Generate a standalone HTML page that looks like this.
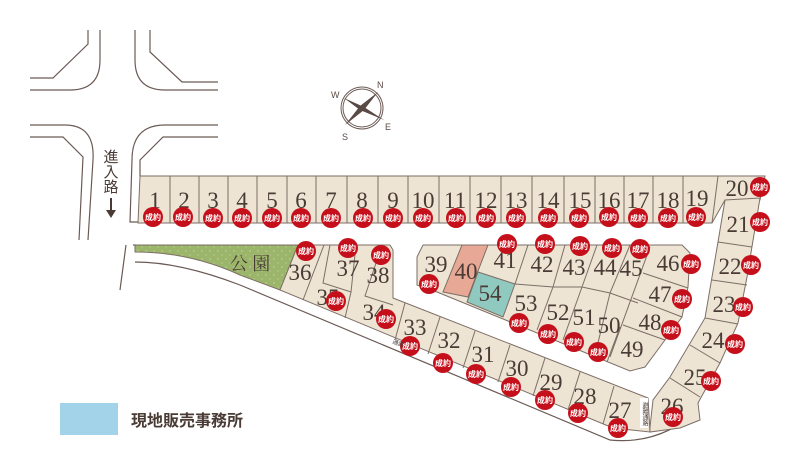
<!DOCTYPE html>
<html><head><meta charset="utf-8"><style>
html,body{margin:0;padding:0;background:#fff;}
svg{display:block;}
.l{fill:#ede4d4;stroke:#7d6e66;stroke-width:1;}
.d{stroke:#7d6e66;stroke-width:1;fill:none;}
.r{stroke:#6b5a55;stroke-width:1.2;fill:none;}
.n{font-family:"Liberation Serif",serif;font-size:23px;fill:#4a3b35;text-anchor:middle;}
.bt{font-family:"Liberation Sans","Noto Sans CJK JP",sans-serif;font-size:8px;font-weight:bold;fill:#fff;text-anchor:middle;}
</style></head><body>
<svg width="790" height="470" viewBox="0 0 790 470" xmlns="http://www.w3.org/2000/svg">
<defs><pattern id="pk" width="8" height="8" patternUnits="userSpaceOnUse"><rect width="8" height="8" fill="#9bb56b"/><circle cx="2" cy="3" r="0.6" fill="#d8e4bd"/><circle cx="6" cy="7" r="0.5" fill="#d8e4bd"/></pattern></defs>
<!-- roads -->
<path class="r" d="M30,78 H53 L88,44 V30"/>
<path class="r" d="M30,90 H70 Q100,90 100,60 V30"/>
<path class="r" d="M135,30 V60 Q135,90 165,90 H218"/>
<path class="r" d="M150,30 V52 L182,82 H218"/>
<path class="r" d="M30,125 H65 Q95,125 93,160 L88,240"/>
<path class="r" d="M30,137 H63 L83,157 L79,240"/>
<path class="r" d="M218,125 H165 Q132,125 132,160 L130,222 H140"/>
<path class="r" d="M218,137 H163 L140,160 V176"/>
<path class="r" d="M126,245 L120,290"/>
<path class="r" d="M133,245 H136"/>
<path class="r" d="M135,262 Q180,262 240,285 L610,440 Q660,445 698,410"/>
<!-- compass -->
<circle cx="362" cy="108" r="21" fill="none" stroke="#6b5a55" stroke-width="1"/>
<circle cx="362" cy="108" r="19" fill="none" stroke="#6b5a55" stroke-width="1"/>
<path d="M378,92 L364,110 L345,125 L360,106Z M344,98 L364,107 L384,120 L360,110Z" fill="#5a4a45"/>
<g font-family="Liberation Sans,sans-serif" font-size="9" fill="#5a4a45"><text x="377" y="88">N</text><text x="331" y="98">W</text><text x="385" y="130">E</text><text x="342" y="140">S</text></g>
<!-- 進入路 -->
<g font-family="Liberation Sans,Noto Sans CJK JP,sans-serif" font-size="15" fill="#4a3b35" text-anchor="middle"><text x="111" y="162">進</text><text x="111" y="177">入</text><text x="111" y="192">路</text></g>
<path d="M111,198 V212" stroke="#4a3b35" stroke-width="2"/><path d="M106,210 L111,218 L116,210Z" fill="#4a3b35"/>
<!-- top row -->
<polygon class="l" points="140,176 765,176 760,200 725,200 712,223 138,223"/>
<g class="d"><path d="M170,176V223M199,176V223M228,176V223M257,176V223M287,176V223M316,176V223M347,176V223M378,176V223M408,176V223M439,176V223M470,176V223M501,176V223M532,176V223M564,176V223M595,176V223M624,176V223M653,176V223M683,176V223M718,176L712,223"/></g>
<!-- right strip -->
<polygon class="l" points="725,200 760,198 747,277 738,323 720,363 698,403 700,420 680,428 650,432 650,427 653,400 670,377 705,318 718,242"/>
<g class="d"><path d="M718,242L752,247M712,280L747,285M705,318L738,324M690,345L720,363M670,378L700,397"/></g>
<!-- park -->
<path d="M135,245 H298 L280,290 L240,275 Q190,252 135,252Z" fill="url(#pk)" stroke="#7d6e66" stroke-width="1"/>
<text x="250" y="270" font-family="Liberation Serif,Noto Serif CJK SC,serif" font-size="18" fill="#4a3b35" text-anchor="middle">公 園</text>
<!-- lower block -->
<polygon class="l" points="298,245 390,245 393,250 393,298 648,398 650,432 613,428 280,290"/>
<g class="d"><path d="M324,245L303,300M330,245L323,283L351,292L356,245M351,292L345,318M382,245L365,296L393,305M405,303L395,340M440,317L428,354M475,331L463,368M510,345L498,382M545,358L533,396M580,372L568,410M614,386L603,424"/></g>
<!-- island -->
<polygon class="l" points="423,245 682,245 690,253 688,287 682,317 665,340 645,367 630,371 437,292 417,285 417,257"/>
<polygon points="462,245 488,245 468,297 443,292" fill="#e8a896" stroke="#7d6e66"/>
<polygon points="478,272 515,284 503,317 467,302" fill="#8fc9bf" stroke="#7d6e66"/>
<g class="d"><path d="M528,245L515,284M515,284L553,287L582,287L610,293L638,303M565,245L553,287L537,330M597,245L582,287L563,340M630,245L610,293L597,347M650,247L610,357M643,273L688,288M633,298L682,317M623,325L665,340M620,327L607,362"/></g>
<!-- numbers -->
<g class="n">
<text x="155" y="208">1</text><text x="184" y="208">2</text><text x="213" y="208">3</text><text x="242" y="208">4</text><text x="272" y="208">5</text><text x="301" y="208">6</text><text x="331" y="208">7</text><text x="362" y="208">8</text><text x="393" y="208">9</text><text x="423" y="208">10</text><text x="455" y="208">11</text><text x="486" y="208">12</text><text x="516" y="208">13</text><text x="548" y="208">14</text><text x="580" y="208">15</text><text x="609" y="208">16</text><text x="638" y="208">17</text><text x="668" y="208">18</text><text x="697" y="206">19</text>
<text x="737" y="196">20</text><text x="738" y="232">21</text><text x="730" y="274">22</text><text x="724" y="312">23</text><text x="713" y="348">24</text><text x="695" y="385">25</text><text x="672" y="414">26</text><text x="620" y="418">27</text><text x="585" y="404">28</text><text x="551" y="390">29</text><text x="517" y="376">30</text><text x="483" y="362">31</text><text x="449" y="348">32</text><text x="415" y="335">33</text><text x="374" y="320">34</text><text x="328" y="305">35</text><text x="300" y="280">36</text><text x="348" y="276">37</text><text x="378" y="283">38</text><text x="436" y="272">39</text><text x="466" y="279">40</text><text x="505" y="268">41</text><text x="542" y="272">42</text><text x="574" y="275">43</text><text x="605" y="275">44</text><text x="631" y="276">45</text><text x="668" y="271">46</text><text x="660" y="302">47</text><text x="650" y="330">48</text><text x="632" y="357">49</text><text x="609" y="333">50</text><text x="584" y="325">51</text><text x="558" y="320">52</text><text x="526" y="311">53</text><text x="490" y="301">54</text>
</g>
<!-- badges -->
<g id="b">
<g fill="#c5101b">
<circle cx="153" cy="217" r="10"/><circle cx="183" cy="217" r="10"/><circle cx="213" cy="218" r="10"/><circle cx="242" cy="218" r="10"/><circle cx="272" cy="218" r="10"/><circle cx="301" cy="218" r="10"/><circle cx="331" cy="218" r="10"/><circle cx="363" cy="218" r="10"/><circle cx="393" cy="218" r="10"/><circle cx="423" cy="218" r="10"/><circle cx="456" cy="218" r="10"/><circle cx="486" cy="218" r="10"/><circle cx="516" cy="218" r="10"/><circle cx="548" cy="218" r="10"/><circle cx="579" cy="218" r="10"/><circle cx="609" cy="217" r="10"/><circle cx="638" cy="218" r="10"/><circle cx="668" cy="218" r="10"/><circle cx="696" cy="217" r="10"/>
<circle cx="760" cy="187" r="10"/><circle cx="760" cy="222" r="10"/><circle cx="751" cy="265" r="10"/><circle cx="743" cy="307" r="10"/><circle cx="735" cy="344" r="10"/><circle cx="711" cy="381" r="10"/><circle cx="673" cy="417" r="10"/><circle cx="618" cy="428" r="10"/><circle cx="578" cy="413" r="10"/><circle cx="545" cy="400" r="10"/><circle cx="511" cy="387" r="10"/><circle cx="476" cy="374" r="10"/><circle cx="443" cy="363" r="10"/><circle cx="410" cy="346" r="10"/><circle cx="386" cy="319" r="10"/><circle cx="336" cy="301" r="10"/><circle cx="306" cy="251" r="10"/><circle cx="348" cy="248" r="10"/><circle cx="381" cy="255" r="10"/><circle cx="429" cy="284" r="10"/><circle cx="507" cy="244" r="10"/><circle cx="545" cy="244" r="10"/><circle cx="580" cy="246" r="10"/><circle cx="612" cy="248" r="10"/><circle cx="640" cy="249" r="10"/><circle cx="691" cy="264" r="10"/><circle cx="682" cy="299" r="10"/><circle cx="671" cy="330" r="10"/><circle cx="598" cy="352" r="10"/><circle cx="574" cy="342" r="10"/><circle cx="548" cy="334" r="10"/><circle cx="519" cy="323" r="10"/>
</g>
<g class="bt">
<text x="153" y="220">成約</text><text x="183" y="220">成約</text><text x="213" y="221">成約</text><text x="242" y="221">成約</text><text x="272" y="221">成約</text><text x="301" y="221">成約</text><text x="331" y="221">成約</text><text x="363" y="221">成約</text><text x="393" y="221">成約</text><text x="423" y="221">成約</text><text x="456" y="221">成約</text><text x="486" y="221">成約</text><text x="516" y="221">成約</text><text x="548" y="221">成約</text><text x="579" y="221">成約</text><text x="609" y="220">成約</text><text x="638" y="221">成約</text><text x="668" y="221">成約</text><text x="696" y="220">成約</text>
<text x="760" y="190">成約</text><text x="760" y="225">成約</text><text x="751" y="268">成約</text><text x="743" y="310">成約</text><text x="735" y="347">成約</text><text x="711" y="384">成約</text><text x="673" y="420">成約</text><text x="618" y="431">成約</text><text x="578" y="416">成約</text><text x="545" y="403">成約</text><text x="511" y="390">成約</text><text x="476" y="377">成約</text><text x="443" y="366">成約</text><text x="410" y="349">成約</text><text x="386" y="322">成約</text><text x="336" y="304">成約</text><text x="306" y="254">成約</text><text x="348" y="251">成約</text><text x="381" y="258">成約</text><text x="429" y="287">成約</text><text x="507" y="247">成約</text><text x="545" y="247">成約</text><text x="580" y="249">成約</text><text x="612" y="251">成約</text><text x="640" y="252">成約</text><text x="691" y="267">成約</text><text x="682" y="302">成約</text><text x="671" y="333">成約</text><text x="598" y="355">成約</text><text x="574" y="345">成約</text><text x="548" y="337">成約</text><text x="519" y="326">成約</text>
</g></g>
<!-- small road labels -->
<text x="392" y="343" font-family="Liberation Sans,Noto Sans CJK JP,sans-serif" font-size="6" fill="#4a3b35" transform="rotate(22 392 343)">通路</text>
<rect x="640" y="398" width="8" height="30" fill="#fff"/>
<text x="644" y="402" font-family="Liberation Sans,Noto Sans CJK JP,sans-serif" font-size="6" fill="#4a3b35" writing-mode="tb">避難通路</text>
<!-- legend -->
<rect x="60" y="403" width="58" height="32" fill="#a3d3e8"/>
<text x="131" y="426" font-family="Liberation Sans,Noto Sans CJK JP,sans-serif" font-size="16" font-weight="bold" fill="#4a3b35">現地販売事務所</text>
</svg>
</body></html>
